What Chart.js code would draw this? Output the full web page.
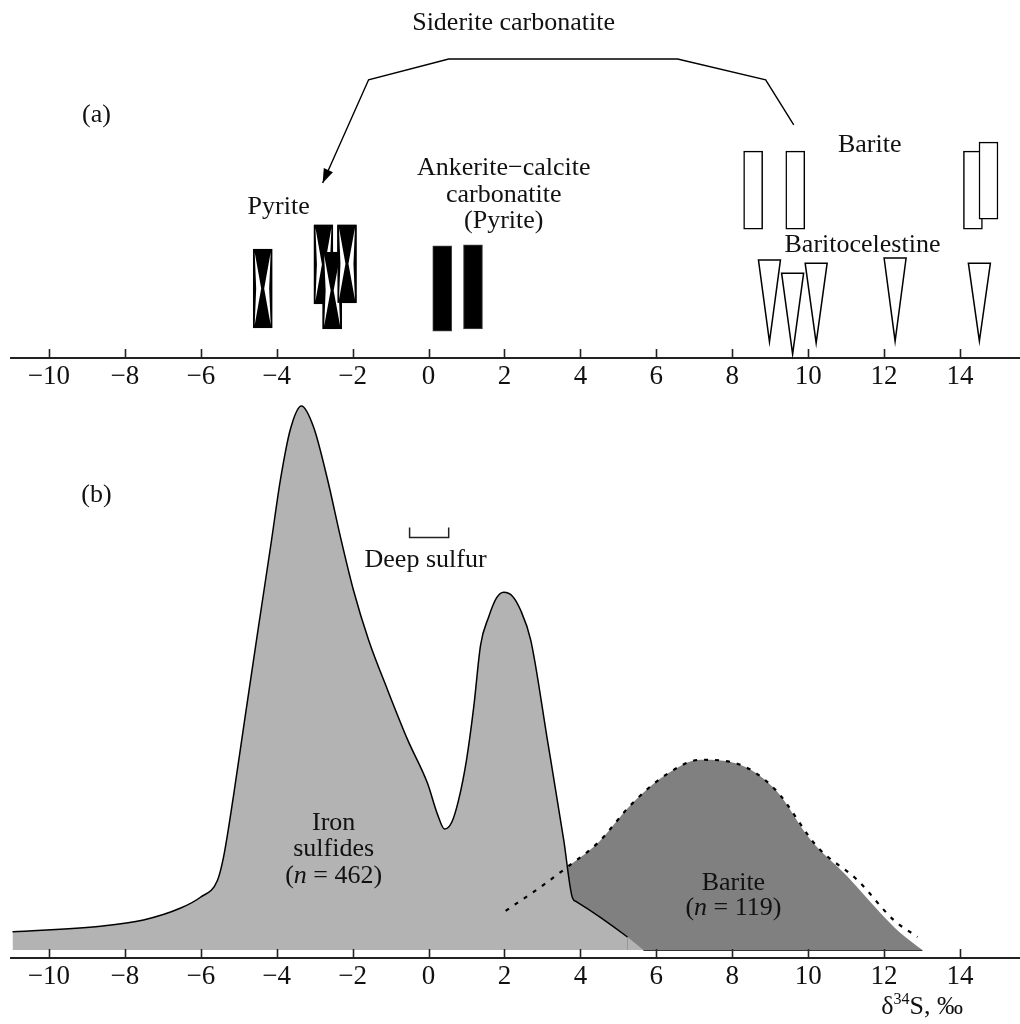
<!DOCTYPE html>
<html>
<head>
<meta charset="utf-8">
<script src="https://cdn.jsdelivr.net/npm/chart.js@4.4.0/dist/chart.umd.min.js"></script>
<style>
  html, body { margin: 0; padding: 0; background: #fff; }
  #wrap { position: relative; width: 1020px; height: 1024px; }
  #box-a { position: absolute; left: 0; top: 0; }
  #box-b { position: absolute; left: 0; top: 390px; }
</style>
</head>
<body>
<div id="wrap">
  <div id="box-a"><canvas id="chart-a" width="1020" height="395"></canvas></div>
  <div id="box-b"><canvas id="chart-b" width="1020" height="634"></canvas></div>
</div>
<script>
// shared δ34S axis
var xTicks = [-10, -8, -6, -4, -2, 0, 2, 4, 6, 8, 10, 12, 14];

// (a) single analyses: x = δ34S, lo/hi = symbol extent (arbitrary height units 0..100)
var pyriteX = [-4.37, -2.77, -2.54, -2.15];
var pyriteLo = [8.4, 15.1, 8.1, 15.4];
var pyriteHi = [30.4, 37.2, 29.6, 37.2];

var ankeriteX = [0.36, 1.17];
var ankeriteLo = [7.5, 8.1];
var ankeriteHi = [31.3, 31.6];

var bariteX = [8.55, 9.66, 14.34, 14.75];
var bariteLo = [36.0, 36.0, 36.0, 38.8];
var bariteHi = [57.8, 57.8, 57.8, 60.3];

var celestineX = [8.98, 9.59, 10.21, 12.29, 14.51];
var celestineTop = [27.4, 23.7, 26.5, 27.9, 26.5];
var celestineTip = [4.5, 1.1, 4.2, 4.7, 4.7];

// siderite carbonatite leader line
var arrowX = [9.62, 8.88, 6.56, 0.53, -1.58, -2.79];
var arrowY = [65.1, 77.7, 83.5, 83.5, 77.7, 48.9];

// (b) frequency curves (arbitrary units 0..100)
var ironX = [-10.96, -8.64, -7.51, -6.53, -6.01, -5.56, -5.40, -5.14, -4.83, -4.49, -4.16, -3.90, -3.64, -3.35,
             -3.03, -2.66, -2.32, -1.98, -1.58, -1.08, -0.55, -0.03, 0.24, 0.42, 0.61, 0.79, 1.00, 1.19, 1.37,
             1.58, 1.79, 1.98, 2.21, 2.42, 2.69, 3.13, 3.56, 3.79, 3.90, 5.24, 5.66];
var ironY = [4.6, 5.6, 6.7, 8.8, 10.7, 13.7, 17.8, 28.5, 42.6, 57.9, 72.5, 84.3, 93.1, 97.2,
             93.5, 84.2, 74.1, 64.8, 56.0, 47.2, 38.4, 30.8, 25.2, 22.7, 23.9, 27.8, 34.9, 44.2, 55.1,
             60.0, 63.4, 64.4, 63.7, 61.3, 56.0, 38.4, 20.8, 10.6, 9.9, 3.7, 1.4];

var bariteCurveX = [2.03, 2.95, 3.69, 4.48, 5.32, 6.24, 7.17, 8.22, 9.14, 10.06, 11.04, 11.91, 12.43, 13.01];
var bariteCurveY = [8.3, 12.5, 16.2, 20.4, 26.9, 32.2, 34.9, 34.0, 29.6, 20.8, 14.3, 7.9, 4.4, 1.4];
var bariteDashX = [2.03, 2.95, 3.69, 4.48, 5.32, 6.24, 7.17, 8.22, 9.14, 10.25, 11.30, 12.25, 12.88];
var bariteDashY = [8.3, 12.5, 16.2, 20.4, 26.9, 32.2, 34.9, 34.0, 29.6, 19.5, 13.7, 6.7, 3.7];

var curveBase = 1.4;
var deepSulfurX = [-0.5, 0.53];
var deepSulfurY = 74.1;

var FONT = 'Liberation Serif, Times New Roman, serif';

function fmt(v) { return v < 0 ? '\u2212' + Math.abs(v) : String(v); }
function pts(xs, ys) { return xs.map(function (x, i) { return {x: x, y: ys[i]}; }); }
function bars(xs, lo, hi) { return xs.map(function (x, i) { return {x: x, y: [lo[i], hi[i]]}; }); }

function richText(ctx, parts, cx, cy, size) {
    var w = 0;
    parts.forEach(function (p) {
        ctx.font = (p.i ? 'italic ' : '') + size + 'px ' + FONT;
        w += ctx.measureText(p.t).width;
    });
    var x = cx - w / 2;
    ctx.textAlign = 'left';
    parts.forEach(function (p) {
        ctx.font = (p.i ? 'italic ' : '') + size + 'px ' + FONT;
        ctx.fillText(p.t, x, cy);
        x += ctx.measureText(p.t).width;
    });
}

function drawLabels(chart, labels) {
    var ctx = chart.ctx, xs = chart.scales.x, ys = chart.scales.y;
    ctx.save();
    ctx.fillStyle = '#111';
    ctx.textBaseline = 'middle';
    labels.forEach(function (l) {
        var px = xs.getPixelForValue(l.x), py = ys.getPixelForValue(l.y);
        if (typeof l.t === 'string') {
            ctx.font = '26px ' + FONT;
            ctx.textAlign = 'center';
            ctx.fillText(l.t, px, py);
        } else {
            richText(ctx, l.t, px, py, 26);
        }
    });
    ctx.restore();
}

// inward tick marks on the δ34S axis
var upTicks = {
    id: 'upTicks',
    afterDraw: function (chart) {
        var ctx = chart.ctx, xs = chart.scales.x;
        ctx.save();
        ctx.strokeStyle = '#222';
        ctx.lineWidth = 1.6;
        xTicks.forEach(function (v) {
            var px = Math.round(xs.getPixelForValue(v)) + 0.5;
            ctx.beginPath();
            ctx.moveTo(px, xs.top);
            ctx.lineTo(px, xs.top - 9);
            ctx.stroke();
        });
        ctx.restore();
    }
};

var xScale = function (h) {
    return {
        type: 'linear', min: -11, max: 15.58, offset: false,
        afterBuildTicks: function (s) { s.ticks = xTicks.map(function (v) { return {value: v}; }); },
        afterFit: function (s) { s.height = h; },
        grid: {drawOnChartArea: false, drawTicks: false},
        border: {display: true, color: '#222', width: 2},
        ticks: {padding: 3, color: '#111', maxRotation: 0, autoSkip: false,
                font: {family: FONT, size: 27}, callback: fmt}
    };
};

// ---------- (a) ----------
var glyphsA = {
    id: 'glyphsA',
    afterDatasetsDraw: function (chart) {
        var ctx = chart.ctx, xs = chart.scales.x, ys = chart.scales.y;
        ctx.save();
        // pyrite hourglass symbols
        chart.getDatasetMeta(0).data.forEach(function (el) {
            var l = el.x - el.width / 2, r = el.x + el.width / 2;
            var t = Math.min(el.y, el.base), b = Math.max(el.y, el.base), cy = (t + b) / 2;
            ctx.fillStyle = '#000';
            ctx.fillRect(l, t, r - l, b - t);
            ctx.fillStyle = '#fff';
            ctx.beginPath();
            ctx.moveTo(l + 1.5, t + 3); ctx.lineTo(el.x - 1.5, cy); ctx.lineTo(l + 1.5, b - 3);
            ctx.lineTo(l + 3, cy);
            ctx.closePath(); ctx.fill();
            ctx.beginPath();
            ctx.moveTo(r - 1.5, t + 3); ctx.lineTo(el.x + 1.5, cy); ctx.lineTo(r - 1.5, b - 3);
            ctx.lineTo(r - 3, cy);
            ctx.closePath(); ctx.fill();
        });
        // baritocelestine triangles
        ctx.lineWidth = 1.5;
        ctx.strokeStyle = '#000';
        celestineX.forEach(function (x, i) {
            var px = xs.getPixelForValue(x);
            var top = ys.getPixelForValue(celestineTop[i]), tip = ys.getPixelForValue(celestineTip[i]);
            ctx.beginPath();
            ctx.moveTo(px - 11, top); ctx.lineTo(px + 11, top); ctx.lineTo(px, tip); ctx.closePath();
            ctx.fillStyle = '#fff'; ctx.fill(); ctx.stroke();
        });
        // leader line with arrow
        var P = arrowX.map(function (x, i) { return [xs.getPixelForValue(x), ys.getPixelForValue(arrowY[i])]; });
        ctx.lineWidth = 1.4;
        ctx.beginPath();
        P.forEach(function (p, i) { if (i) ctx.lineTo(p[0], p[1]); else ctx.moveTo(p[0], p[1]); });
        ctx.stroke();
        var a = P[P.length - 1], b0 = P[P.length - 2];
        var ang = Math.atan2(a[1] - b0[1], a[0] - b0[0]);
        ctx.fillStyle = '#000';
        ctx.beginPath();
        ctx.moveTo(a[0], a[1]);
        ctx.lineTo(a[0] - 14 * Math.cos(ang) + 5 * Math.sin(ang), a[1] - 14 * Math.sin(ang) - 5 * Math.cos(ang));
        ctx.lineTo(a[0] - 14 * Math.cos(ang) - 5 * Math.sin(ang), a[1] - 14 * Math.sin(ang) + 5 * Math.cos(ang));
        ctx.closePath(); ctx.fill();
        ctx.restore();

        drawLabels(chart, [
            {t: 'Siderite carbonatite', x: 2.24, y: 93.6},
            {t: '(a)', x: -8.75, y: 67.9},
            {t: 'Pyrite', x: -3.95, y: 42.2},
            {t: 'Ankerite\u2212calcite', x: 1.98, y: 53.0},
            {t: 'carbonatite', x: 1.98, y: 45.5},
            {t: '(Pyrite)', x: 1.98, y: 38.2},
            {t: 'Barite', x: 11.62, y: 59.5},
            {t: 'Baritocelestine', x: 11.43, y: 31.6}
        ]);
    }
};

new Chart(document.getElementById('chart-a').getContext('2d'), {
    type: 'bar',
    data: {
        datasets: [
            {label: 'Pyrite', data: bars(pyriteX, pyriteLo, pyriteHi), backgroundColor: '#000',
             borderColor: '#000', borderWidth: 1, borderSkipped: false},
            {label: 'Ankerite-calcite carbonatite', data: bars(ankeriteX, ankeriteLo, ankeriteHi),
             backgroundColor: '#000', borderColor: '#444', borderWidth: 1, borderSkipped: false},
            {label: 'Barite', data: bars(bariteX, bariteLo, bariteHi), backgroundColor: '#fff',
             borderColor: '#000', borderWidth: 1.5, borderSkipped: false}
        ]
    },
    options: {
        responsive: false,
        animation: false,
        grouped: false,
        barThickness: 19,
        layout: {padding: {left: 11, right: 0, top: 0, bottom: 0}},
        plugins: {legend: {display: false}, tooltip: {enabled: false}},
        scales: {
            x: xScale(37),
            y: {display: false, min: 0, max: 100}
        }
    },
    plugins: [upTicks, glyphsA]
});

// ---------- (b) ----------
var extrasB = {
    id: 'extrasB',
    afterDraw: function (chart) {
        var ctx = chart.ctx, xs = chart.scales.x, ys = chart.scales.y;
        ctx.save();
        // thin base line under the barite field
        var yb = Math.round(ys.getPixelForValue(curveBase)) + 0.5;
        ctx.strokeStyle = '#333';
        ctx.lineWidth = 1;
        ctx.beginPath();
        ctx.moveTo(xs.getPixelForValue(ironX[ironX.length - 1]), yb);
        ctx.lineTo(xs.getPixelForValue(bariteCurveX[bariteCurveX.length - 1]), yb);
        ctx.stroke();

        // deep sulfur bracket
        var x0 = xs.getPixelForValue(deepSulfurX[0]), x1 = xs.getPixelForValue(deepSulfurX[1]);
        var y0 = Math.round(ys.getPixelForValue(deepSulfurY)) + 0.5;
        ctx.strokeStyle = '#222';
        ctx.lineWidth = 1.5;
        ctx.beginPath();
        ctx.moveTo(x0, y0 - 10); ctx.lineTo(x0, y0); ctx.lineTo(x1, y0); ctx.lineTo(x1, y0 - 10);
        ctx.stroke();

        // axis title δ34S, ‰
        ctx.fillStyle = '#111';
        ctx.textBaseline = 'alphabetic';
        ctx.textAlign = 'left';
        var base = xs.top + 56;
        var parts = [['\u03b4', 26, 0], ['34', 16, -10], ['S, \u2030', 26, 0]];
        var w = 0;
        parts.forEach(function (p) { ctx.font = p[1] + 'px ' + FONT; w += ctx.measureText(p[0]).width; });
        var x = xs.getPixelForValue(14) + 3 - w;
        parts.forEach(function (p) {
            ctx.font = p[1] + 'px ' + FONT;
            ctx.fillText(p[0], x, base + p[2]);
            x += ctx.measureText(p[0]).width;
        });
        ctx.restore();

        drawLabels(chart, [
            {t: '(b)', x: -8.75, y: 81.5},
            {t: 'Deep sulfur', x: -0.08, y: 70.1},
            {t: 'Iron', x: -2.5, y: 23.8},
            {t: 'sulfides', x: -2.5, y: 19.2},
            {t: [{t: '('}, {t: 'n', i: true}, {t: ' = 462)'}], x: -2.5, y: 14.4},
            {t: 'Barite', x: 8.03, y: 13.2},
            {t: [{t: '('}, {t: 'n', i: true}, {t: ' = 119)'}], x: 8.03, y: 8.8}
        ]);
    }
};

var lastSeg = ironX.length - 2;
new Chart(document.getElementById('chart-b').getContext('2d'), {
    type: 'line',
    data: {
        datasets: [
            {label: 'Barite dashed', data: pts(bariteDashX, bariteDashY), order: 0,
             borderColor: '#000', borderWidth: 2.2, borderDash: [4, 7], fill: false,
             pointRadius: 0, cubicInterpolationMode: 'monotone'},
            {label: 'Iron sulfides (n = 462)', data: pts(ironX, ironY), order: 1,
             borderColor: '#000', borderWidth: 1.5, backgroundColor: '#b3b3b3',
             fill: {value: curveBase}, pointRadius: 0, cubicInterpolationMode: 'monotone',
             segment: {borderColor: function (c) { return c.p0DataIndex >= lastSeg ? 'rgba(0,0,0,0)' : '#000'; }}},
            {label: 'Barite (n = 119)', data: pts(bariteCurveX, bariteCurveY), order: 2,
             borderWidth: 0, borderColor: 'rgba(0,0,0,0)', backgroundColor: '#808080',
             fill: {value: curveBase}, pointRadius: 0, cubicInterpolationMode: 'monotone'}
        ]
    },
    options: {
        responsive: false,
        animation: false,
        layout: {padding: {left: 11, right: 0, top: 0, bottom: 0}},
        plugins: {legend: {display: false}, tooltip: {enabled: false}},
        scales: {
            x: xScale(66),
            y: {display: false, min: 0, max: 100}
        }
    },
    plugins: [upTicks, extrasB]
});
</script>
</body>
</html>
